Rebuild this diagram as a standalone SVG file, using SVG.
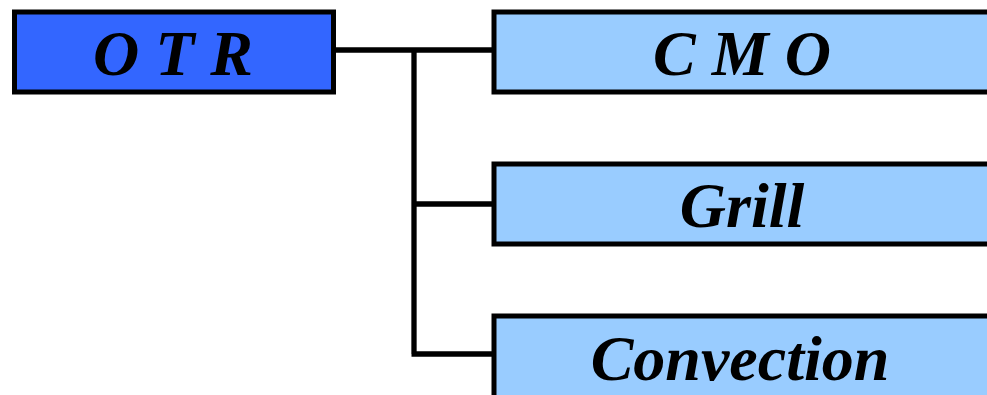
<svg xmlns="http://www.w3.org/2000/svg" width="987" height="395" viewBox="0 0 987 395">
<style>
.box{stroke:#000;stroke-width:5}
.root{fill:#3366FF}
.child{fill:#99CCFF}
.lbl{font-family:"Liberation Serif","Times New Roman",serif;font-weight:bold;font-style:italic;font-size:64px;fill:#000;text-anchor:middle}
.conn{stroke:#000;stroke-width:5.3;fill:none}
</style>
<rect width="987" height="395" fill="#fff"/>
<g id="connectors">
<path class="conn" d="M336 50 H492 M414 50 V354 M414 204 H492 M411.5 354 H492"/>
</g>
<g id="otr">
<rect class="box root" x="14.5" y="12" width="319" height="80"/>
<text class="lbl" x="173" y="75">O T R</text>
</g>
<g id="cmo">
<rect class="box child" x="494" y="12" width="500" height="80"/>
<text class="lbl" x="742" y="75">C M O</text>
</g>
<g id="grill">
<rect class="box child" x="494" y="164" width="500" height="80"/>
<text class="lbl" x="742" y="227">Grill</text>
</g>
<g id="convection">
<rect class="box child" x="494" y="316" width="500" height="100"/>
<text class="lbl" x="740" y="380">Convection</text>
</g>
</svg>
